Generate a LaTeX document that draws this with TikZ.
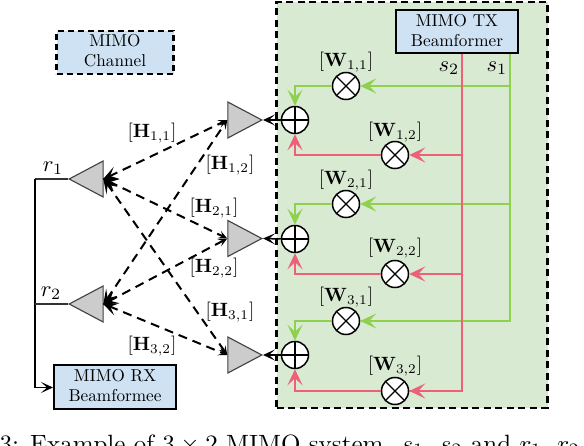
\documentclass[tikz,border=0pt]{standalone}
\usepackage{graphicx}
\usepackage{amsmath}
\usetikzlibrary{arrows.meta,shapes.geometric,calc}
\definecolor{boxgreen}{HTML}{D9EAD3}
\definecolor{boxblue}{HTML}{CFE2F3}
\definecolor{sigred}{HTML}{EE5F78}
\definecolor{siggreen}{HTML}{8FD14F}
\definecolor{antgray}{HTML}{CCCCCC}
\newcommand{\twolines}[2]{\scalebox{1.72}{\begin{tabular}{@{}c@{}}#1\\[-0.3pt]#2\end{tabular}}}
\tikzset{
  x=1pt,y=-1pt,
  blockbox/.style={draw=black,line width=2pt,fill=boxblue,minimum width=122pt,minimum height=43pt,inner sep=0pt},
  dashbox/.style={blockbox,line width=2.2pt,dash pattern=on 6pt off 4pt,minimum width=117pt},
  mult/.style={circle,draw=black,line width=1.5pt,fill=white,minimum size=27pt,inner sep=0pt,
    path picture={\draw[line width=1.2pt] (path picture bounding box.north west)--(path picture bounding box.south east)
      (path picture bounding box.north east)--(path picture bounding box.south west);}},
  addr/.style={circle,draw=black,line width=1.5pt,fill=white,minimum size=27pt,inner sep=0pt,
    path picture={\draw[line width=1.2pt] (path picture bounding box.north)--(path picture bounding box.south)
      (path picture bounding box.east)--(path picture bounding box.west);}},
  ant/.style={isosceles triangle,isosceles triangle apex angle=56,isosceles triangle stretches,draw=black!75,line width=1.1pt,fill=antgray,minimum width=36pt,minimum height=34pt,inner sep=0pt},
  lab/.style={inner sep=0pt,scale=1.92,transform shape},
  siglab/.style={inner sep=0pt,scale=2.25,transform shape},
  gline/.style={draw=siggreen,line width=1.8pt},
  rline/.style={draw=sigred,line width=1.8pt},
  gtip/.style={gline,-{Stealth[length=16pt,width=15pt,inset=7pt,color=siggreen]}},
  rtip/.style={rline,-{Stealth[length=16pt,width=15pt,inset=7pt,color=sigred]}},
  bline/.style={draw=black,line width=1.5pt},
  btip/.style={bline,-{Stealth[length=12pt,width=11pt,inset=6pt]}},
  chan/.style={draw=black,line width=2pt,dash pattern=on 9pt off 6pt,
    {Stealth[length=15pt,width=13pt,inset=7pt,sep=-1pt]}-{Stealth[length=9pt,width=8pt,inset=4pt]}},
}
\begin{document}
\begin{tikzpicture}
\useasboundingbox (0,0) rectangle (584,446);
% transmitter panel
\node[draw=black,line width=2.1pt,dash pattern=on 7pt off 4.5pt,fill=boxgreen,minimum width=271pt,minimum height=406pt,inner sep=0pt] (panel) at (412,205) {};
\node[blockbox] (tx) at (457,32) {\twolines{MIMO TX}{Beamformer}};
\node[dashbox] (chan) at (115,52.5) {\twolines{MIMO}{Channel}};
\node[blockbox,minimum height=44pt] (rx) at (115,387.5) {\twolines{MIMO RX}{Beamformee}};
% multipliers and adders
\node[mult] (w11) at (346,86) {};
\node[mult] (w12) at (395,155) {};
\node[mult] (w21) at (346,204) {};
\node[mult] (w22) at (395,274) {};
\node[mult] (w31) at (346,321) {};
\node[mult] (w32) at (395,391) {};
\node[addr] (a1) at (295,120) {};
\node[addr] (a2) at (295,239) {};
\node[addr] (a3) at (295,355) {};
% antennas
\node[ant,anchor=apex] (t1) at (263,120) {};
\node[ant,anchor=apex] (t2) at (263,238.5) {};
\node[ant,anchor=apex] (t3) at (263,355) {};
\node[ant,shape border rotate=180,anchor=apex] (r1) at (68,179) {};
\node[ant,shape border rotate=180,anchor=apex] (r2) at (68,304) {};
% TX feeds
\coordinate (gt) at (510,54);
\coordinate (rt) at (462,54);
\draw[gline] (gt) |- (w31.east);
\draw[gtip] (gt |- w11) -- (w11.east);
\draw[gtip] (gt |- w21) -- (w21.east);
\draw[gtip] (gt |- w31) -- (w31.east);
\draw[gtip] (w11.west) -| (a1.north);
\draw[gtip] (w21.west) -| (a2.north);
\draw[gtip] (w31.west) -| (a3.north);
\draw[rline] (rt) |- (w32.east);
\draw[rtip] (rt |- w12) -- (w12.east);
\draw[rtip] (rt |- w22) -- (w22.east);
\draw[rtip] (rt |- w32) -- (w32.east);
\draw[rtip] (w12.west) -| (a1.south);
\draw[rtip] (w22.west) -| (a2.south);
\draw[rtip] (w32.west) -| (a3.south);
% adder to antenna
\draw[btip] (a1.west) -- (t1.apex);
\draw[btip] (a2.west) -- (t2.apex);
\draw[btip] (a3.west) -- (t3.apex);
% channel
\draw[chan] (r1.lower side) -- (t1.lower side);
\draw[chan] (r1.lower side) -- (t2.lower side);
\draw[chan] (r1.lower side) -- (t3.lower side);
\draw[chan] (r2.lower side) -- (t1.lower side);
\draw[chan] (r2.lower side) -- (t2.lower side);
\draw[chan] (r2.lower side) -- (t3.lower side);
% receive side
\coordinate (bus) at (35,179);
\draw[bline,draw=black!80] (r1.apex) -- (bus);
\draw[btip] (bus) |- (rx.west);
\draw[bline,draw=black!80] (r2.apex) -- (bus |- r2.apex);
% labels
\node[lab] (lw11) at (346,62) {$[\mathbf{W}_{1,1}]$};
\node[lab] (lw12) at (395,132) {$[\mathbf{W}_{1,2}]$};
\node[lab] (lw21) at (346,180) {$[\mathbf{W}_{2,1}]$};
\node[lab] (lw22) at (395,248) {$[\mathbf{W}_{2,2}]$};
\node[lab] (lw31) at (346,297) {$[\mathbf{W}_{3,1}]$};
\node[lab] (lw32) at (395,366) {$[\mathbf{W}_{3,2}]$};
\node[lab] (lh11) at (152,133) {$[\mathbf{H}_{1,1}]$};
\node[lab] (lh12) at (230,165) {$[\mathbf{H}_{1,2}]$};
\node[lab] (lh21) at (214,208) {$[\mathbf{H}_{2,1}]$};
\node[lab] (lh22) at (214,268) {$[\mathbf{H}_{2,2}]$};
\node[lab] (lh31) at (230,312) {$[\mathbf{H}_{3,1}]$};
\node[lab] (lh32) at (152,346) {$[\mathbf{H}_{3,2}]$};
\node[siglab] (ls2) at (449,68) {$s_2$};
\node[siglab] (ls1) at (497,68) {$s_1$};
\node[siglab] (lr1) at (53,168) {$r_1$};
\node[siglab] (lr2) at (51,293) {$r_2$};
% caption, cut by the page edge
\begin{scope}
\clip (0,412) rectangle (584,446);
\node[anchor=base west,inner sep=0pt,scale=2.5,transform shape] (cap) at (-1,452) {3: Example of $3\times 2$ MIMO system. $s_1$, $s_2$ and $r_1$, $r_2$};
\end{scope}
\end{tikzpicture}
\end{document}
